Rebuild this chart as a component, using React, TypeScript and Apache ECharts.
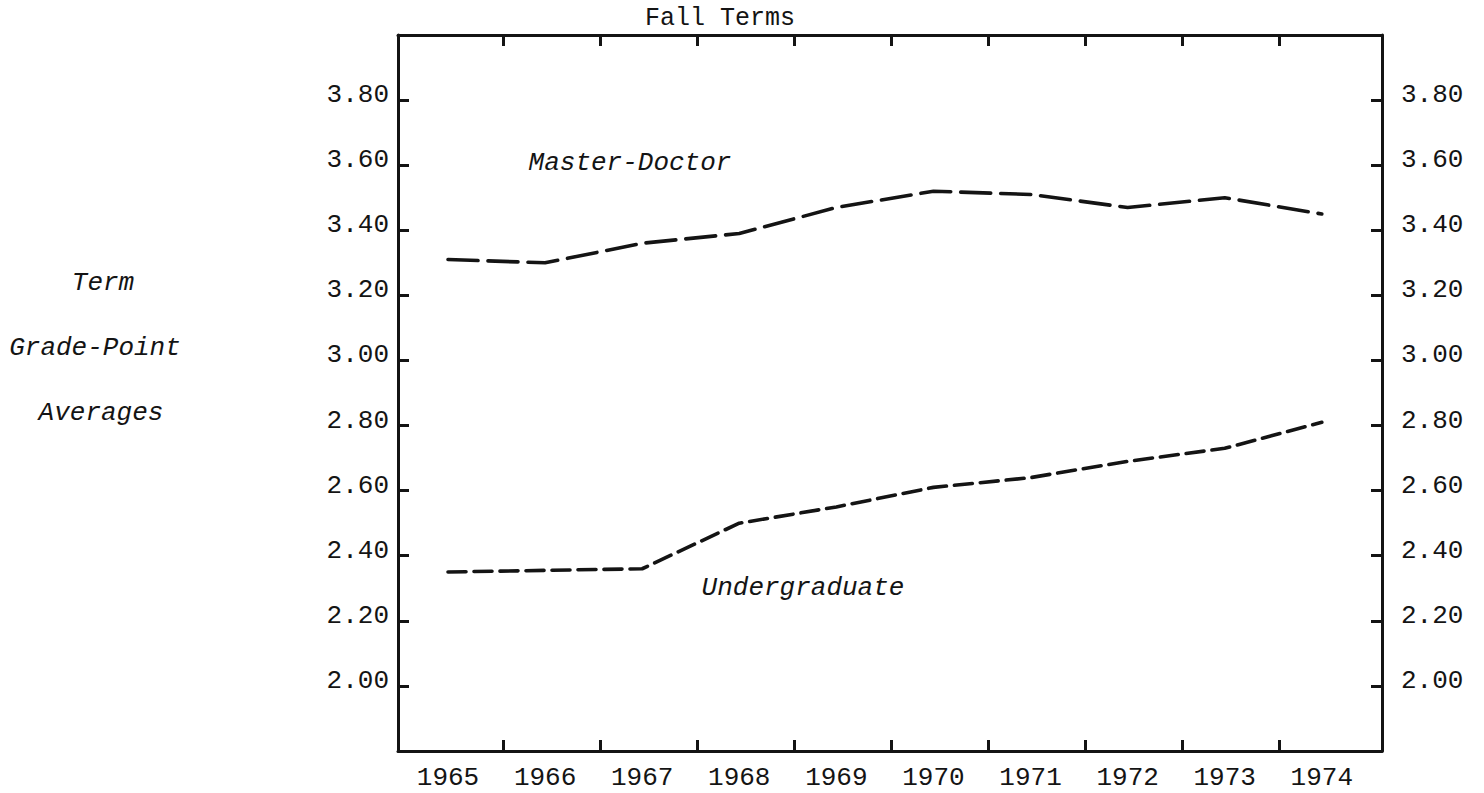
import React, { useEffect, useRef } from "react";
import * as echarts from "echarts";

const years = [1965, 1966, 1967, 1968, 1969, 1970, 1971, 1972, 1973, 1974];
const masterDoctor = [3.31, 3.3, 3.36, 3.39, 3.47, 3.52, 3.51, 3.47, 3.5, 3.45];
const undergraduate = [2.35, 2.355, 2.36, 2.5, 2.55, 2.61, 2.64, 2.69, 2.73, 2.81];
const yTickLabels = ["2.00", "2.20", "2.40", "2.60", "2.80", "3.00", "3.20", "3.40", "3.60", "3.80"];
const yAxisTitleLines = ["Term", "Grade-Point", "Averages"];
const chartTitle = "Fall Terms";
const seriesNames = ["Master-Doctor", "Undergraduate"];

const FONT = "'Liberation Mono', 'DejaVu Sans Mono', monospace";
const INK = "#141414";

export default function App() {
  const ref = useRef<HTMLDivElement>(null);

  useEffect(() => {
    if (!ref.current) return;
    const chart = echarts.init(ref.current, null, { renderer: "svg" });
    const yVals = yTickLabels.map((s) => parseFloat(s));
    const boundaryTicks = years.slice(0, -1).map((y) => y + 0.565);

    const xBase = {
      type: "value" as const,
      min: 1964.485,
      max: 1974.62,
      splitLine: { show: false },
      axisLine: { show: true, lineStyle: { color: INK, width: 3 } },
      axisTick: {
        show: true,
        inside: true,
        length: 11,
        customValues: boundaryTicks,
        lineStyle: { color: INK, width: 3 },
      },
    };
    const yBase = (margin: number) => ({
      type: "value" as const,
      min: 1.8,
      max: 4.0,
      interval: 0.2,
      splitLine: { show: false },
      axisLine: { show: true, lineStyle: { color: INK, width: 3 } },
      axisTick: {
        show: true,
        inside: true,
        length: 11,
        customValues: yVals,
        lineStyle: { color: INK, width: 3 },
      },
      axisLabel: {
        show: true,
        customValues: yVals,
        formatter: (v: number) => v.toFixed(2),
        fontFamily: FONT,
        fontSize: 26,
        color: INK,
        margin,
        verticalAlign: "bottom" as const,
        lineHeight: 10,
      },
    });

    chart.setOption({
      animation: false,
      backgroundColor: "#ffffff",
      grid: { left: 398, right: 102, top: 35, bottom: 42, containLabel: false },
      xAxis: [
        {
          ...xBase,
          position: "bottom",
          axisLabel: {
            show: true,
            customValues: years,
            formatter: (v: number) => String(Math.round(v)),
            fontFamily: FONT,
            fontSize: 26,
            color: INK,
            margin: 14,
          },
        },
        {
          ...xBase,
          position: "top",
          axisLabel: { show: false },
        },
      ],
      yAxis: [
        { ...yBase(9), position: "left" },
        { ...yBase(19), position: "right" },
      ],
      series: [
        {
          name: seriesNames[0],
          type: "line",
          data: years.map((y, i) => [y, masterDoctor[i]]),
          showSymbol: false,
          symbol: "none",
          lineStyle: { color: INK, width: 3.6, type: [30, 10], cap: "round" },
        },
        {
          name: seriesNames[1],
          type: "line",
          data: years.map((y, i) => [y, undergraduate[i]]),
          showSymbol: false,
          symbol: "none",
          lineStyle: { color: INK, width: 3.6, type: [18, 8], cap: "round" },
        },
      ],
      graphic: [
        {
          type: "text",
          x: 720,
          y: 18,
          style: {
            text: chartTitle,
            font: `25px ${FONT}`,
            fill: INK,
            textAlign: "center",
            textVerticalAlign: "middle",
          },
        },
        {
          type: "text",
          x: 630,
          y: 163,
          style: {
            text: seriesNames[0],
            font: `italic 26px ${FONT}`,
            fill: INK,
            textAlign: "center",
            textVerticalAlign: "middle",
          },
        },
        {
          type: "text",
          x: 803,
          y: 588,
          style: {
            text: seriesNames[1],
            font: `italic 26px ${FONT}`,
            fill: INK,
            textAlign: "center",
            textVerticalAlign: "middle",
          },
        },
        ...yAxisTitleLines.map((t, i) => ({
          type: "text" as const,
          x: [103, 95, 101][i],
          y: 283 + i * 65,
          style: {
            text: t,
            font: `italic 26px ${FONT}`,
            fill: INK,
            textAlign: "center",
            textVerticalAlign: "middle",
          },
        })),
      ],
    });

    return () => chart.dispose();
  }, []);

  return (
    <div
      ref={ref}
      style={{ position: "fixed", left: 0, top: 0, width: 1484, height: 793, background: "#fff" }}
    />
  );
}
